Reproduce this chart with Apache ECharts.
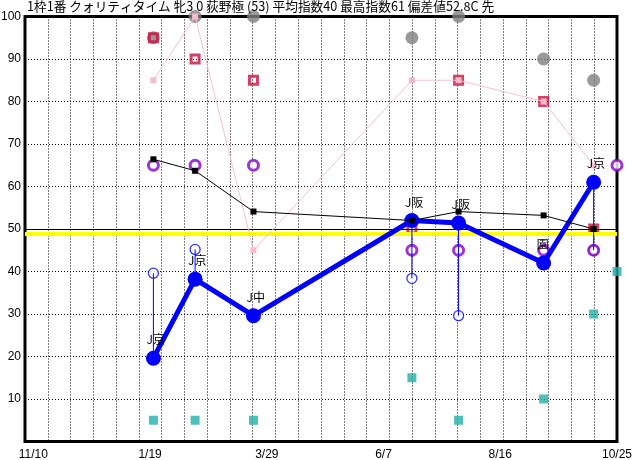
<!DOCTYPE html>
<html><head><meta charset="utf-8">
<script src="https://cdn.jsdelivr.net/npm/echarts@6/dist/echarts.min.js"></script>
<style>html,body{margin:0;padding:0;background:#fff}#c{width:632px;height:460px}</style>
</head><body><div id="c"></div>
<script>
const titleText = '1枠1番 クォリティタイム 牝3 0 荻野極 (53) 平均指数40 最高指数61 偏差値52.8C 先';
const tickDays = [0, 70, 140, 210, 280, 350];
const tickLabels = ['11/10', '1/19', '3/29', '6/7', '8/16', '10/25'];
const raceDays = [72, 97, 132, 227, 255, 306, 336];
const courses = ['J京', 'J京', 'J中', 'J阪', 'J阪', '園', 'J京'];
const mainIndex = [19.6, 38.2, 29.6, 52, 51.4, 42, 61];
const potentialIndex = [39.6, 45.2, null, 38.4, 29.6, null, 45];
const greyValues = [95, 100, 100, 95, 100, 90, 85];
const crimsonValues = [95, 90, 85, 50, 85, 80, 50];
const pinkValues = [85, 100, 45, 85, 85, 80, 65];
const blackValues = [66.4, 63.7, 54.1, 52, 54.1, 53.2, 50];
const purpleDays = [72, 97, 132, 227, 255, 306, 336, 350];
const purpleValues = [65, 65, 65, 45, 45, 45, 45, 65];
const tealDays = [72, 97, 132, 227, 255, 306, 336, 350];
const tealValues = [5, 5, 5, 15, 5, 10, 30, 40];
const baseline = 49;
const yTicks = [0, 10, 20, 30, 40, 50, 60, 70, 80, 90, 100];

const pair = (xs, ys) => xs.map((x, i) => [x, ys[i]]);
const chart = echarts.init(document.getElementById('c'), null, {renderer: 'canvas'});
const dotted = {color: '#000', width: 1, type: [1, 2]};
const labelFont = 'Liberation Sans, Arial, sans-serif';
const jpFont = 'Noto Sans CJK JP, sans-serif';

chart.setOption({
  animation: false,
  backgroundColor: '#fff',
  title: {
    text: titleText, left: 27, top: 0, padding: 0,
    textStyle: {fontSize: 12.7, fontWeight: 'normal', color: '#000', fontFamily: jpFont}
  },
  grid: {left: 25, right: 15, top: 16.5, bottom: 18.5, show: true, borderColor: '#000', borderWidth: 3,
    backgroundColor: 'transparent', containLabel: false, outerBoundsMode: 'none'},
  xAxis: [
    {type: 'value', min: 0, max: 26, interval: 1, axisLine: {show: false}, axisTick: {show: false},
     axisLabel: {show: false}, splitLine: {show: true, lineStyle: dotted}},
    {type: 'value', min: -5, max: 350, position: 'bottom', axisLine: {show: false}, axisTick: {show: false},
     splitLine: {show: false},
     axisLabel: {customValues: tickDays, margin: 7, fontSize: 12, color: '#000', fontFamily: labelFont, hideOverlap: false,
       formatter: v => tickLabels[tickDays.indexOf(v)] || ''}}
  ],
  yAxis: {type: 'value', min: yTicks[0], max: yTicks[yTicks.length - 1], interval: 10,
    axisLine: {show: false}, axisTick: {show: false},
    axisLabel: {margin: 4, fontSize: 12, color: '#000', fontFamily: labelFont, formatter: v => v === 0 ? '' : String(v)},
    splitLine: {show: true, lineStyle: dotted}},
  series: [
    {type: 'line', xAxisIndex: 1, data: [], z: 2,
     markLine: {silent: true, symbol: 'none', label: {show: false}, animation: false,
       data: [
         {yAxis: 50, lineStyle: {color: '#000', width: 1, type: 'solid'}},
         {yAxis: baseline, lineStyle: {color: '#ffff00', width: 4, type: 'solid'}}
       ]}},
    {type: 'scatter', xAxisIndex: 1, z: 3, symbol: 'circle', symbolSize: 13,
     itemStyle: {color: '#808080'}, data: pair(raceDays, greyValues)},
    {type: 'scatter', xAxisIndex: 1, z: 4, symbol: 'rect', symbolSize: 8,
     itemStyle: {color: 'rgba(0,0,0,0)', borderColor: '#cc1040', borderWidth: 3}, data: pair(raceDays, crimsonValues)},
    {type: 'line', xAxisIndex: 1, z: 5, symbol: 'rect', symbolSize: 6, showSymbol: true,
     lineStyle: {color: '#f6c2d2', width: 1}, itemStyle: {color: '#f6bccd'}, data: pair(raceDays, pinkValues)},
    {type: 'scatter', xAxisIndex: 1, z: 6, symbol: 'rect', symbolSize: 9,
     itemStyle: {color: '#20b0a8'}, data: pair(tealDays, tealValues)},
    {type: 'scatter', xAxisIndex: 1, z: 7, symbol: 'circle', symbolSize: 10,
     itemStyle: {color: '#fff', borderColor: '#0000ff', borderWidth: 1.3},
     data: raceDays.map((d, i) => potentialIndex[i] == null ? null : [d, potentialIndex[i]]).filter(Boolean)},
    {type: 'scatter', xAxisIndex: 1, z: 8, symbol: 'circle', symbolSize: 10,
     itemStyle: {color: '#fff', borderColor: '#8800cc', borderWidth: 3}, data: pair(purpleDays, purpleValues)},
    {type: 'custom', xAxisIndex: 1, z: 9, encode: {x: 0, y: [1, 2]},
     data: raceDays.map((d, i) => potentialIndex[i] == null ? null : [d, potentialIndex[i], mainIndex[i]]).filter(Boolean),
     renderItem: (params, api) => {
       const a = api.coord([api.value(0), api.value(1)]);
       const b = api.coord([api.value(0), api.value(2)]);
       return {type: 'line', shape: {x1: a[0], y1: a[1], x2: b[0], y2: b[1]}, style: {stroke: '#0000ff', lineWidth: 1}};
     }},
    {type: 'line', xAxisIndex: 1, z: 10, symbol: 'circle', symbolSize: 15, showSymbol: true,
     lineStyle: {color: '#0000ff', width: 5}, itemStyle: {color: '#0000ff'},
     label: {show: true, position: 'top', distance: 5, align: 'left', offset: [-7, 0],
       fontSize: 12, color: '#000', fontFamily: jpFont, formatter: p => courses[p.dataIndex]},
     data: pair(raceDays, mainIndex)},
    {type: 'line', xAxisIndex: 1, z: 11, symbol: 'rect', symbolSize: 6, showSymbol: true,
     lineStyle: {color: '#000', width: 1}, itemStyle: {color: '#000'}, data: pair(raceDays, blackValues)}
  ]
});
</script></body></html>
